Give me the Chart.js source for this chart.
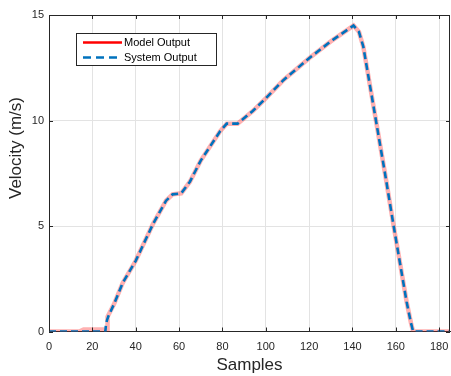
<!DOCTYPE html>
<html><head><meta charset="utf-8">
<script src="https://cdn.jsdelivr.net/npm/chart.js@4/dist/chart.umd.min.js"></script>
<style>html,body{margin:0;padding:0;background:#fff}#wrap{width:451px;height:376px;position:relative}</style>
</head><body><div id="wrap"><canvas id="c" width="451" height="376"></canvas></div>
<script>
const seriesNames = ['Model Output', 'System Output'];
const xTitle = 'Samples';
const yTitle = 'Velocity (m/s)';
const xTickValues = [0, 20, 40, 60, 80, 100, 120, 140, 160, 180];
const yTickValues = [0, 5, 10, 15];

const modelX = [0, 14, 16, 26.8, 27, 30, 34, 40, 48, 54, 57, 61, 65, 70, 79, 82, 87, 94, 100, 108, 112, 120, 130, 140.5, 143, 145, 150, 155, 159, 162, 165, 167, 168, 185];
const modelY = [0, 0, 0.1, 0.1, 0.7, 1.3, 2.3, 3.35, 5.1, 6.2, 6.5, 6.55, 7.1, 8.1, 9.5, 9.85, 9.85, 10.45, 11.05, 11.9, 12.25, 12.95, 13.75, 14.5, 14.2, 13.5, 10.5, 7.5, 5.0, 3.2, 1.4, 0.4, 0, 0];

const systemX = [0, 26, 26.3, 26.8, 27.5, 30, 34, 40, 48, 54, 57, 61, 65, 70, 79, 82, 87, 94, 100, 108, 112, 120, 130, 140.5, 143, 145, 150, 155, 159, 162, 165, 167, 168, 185];
const systemY = [0, 0, 0.35, 0.55, 0.75, 1.3, 2.3, 3.35, 5.1, 6.2, 6.5, 6.55, 7.1, 8.1, 9.5, 9.85, 9.85, 10.45, 11.05, 11.9, 12.25, 12.95, 13.75, 14.5, 14.2, 13.5, 10.5, 7.5, 5.0, 3.2, 1.4, 0.4, 0, 0];

const FONT = "'Liberation Sans', Arial, Helvetica, sans-serif";
const AXIS = '#262626';

const toPts = (xs, ys) => xs.map((x, i) => ({x: x, y: ys[i]}));

const matlabPlugin = {
  id: 'matlab',
  afterDraw(chart) {
    const ctx = chart.ctx;
    const a = chart.chartArea;
    const xs = chart.scales.x, ys = chart.scales.y;
    ctx.save();
    ctx.strokeStyle = AXIS;
    ctx.lineWidth = 1;
    ctx.beginPath();
    ctx.moveTo(a.left, a.top + 0.5); ctx.lineTo(a.right, a.top + 0.5);
    ctx.moveTo(a.right - 0.5, a.top); ctx.lineTo(a.right - 0.5, a.bottom);
    ctx.stroke();
    ctx.beginPath();
    xTickValues.forEach(v => {
      const px = Math.round(xs.getPixelForValue(v)) + 0.5;
      ctx.moveTo(px, a.bottom); ctx.lineTo(px, a.bottom - 4);
      ctx.moveTo(px, a.top); ctx.lineTo(px, a.top + 4);
    });
    yTickValues.forEach(v => {
      const py = Math.round(ys.getPixelForValue(v)) + 0.5;
      ctx.moveTo(a.left, py); ctx.lineTo(a.left + 4, py);
      ctx.moveTo(a.right, py); ctx.lineTo(a.right - 4, py);
    });
    ctx.stroke();
    ctx.fillStyle = AXIS;
    ctx.font = '17px ' + FONT;
    ctx.textAlign = 'center';
    ctx.textBaseline = 'middle';
    ctx.translate(16, 148);
    ctx.rotate(-Math.PI / 2);
    ctx.fillText(yTitle, 0, 0);
    ctx.restore();
    ctx.save();
    const bx = 76.5, by = 33.5, bw = 140, bh = 32;
    ctx.fillStyle = '#fff';
    ctx.fillRect(bx, by, bw, bh);
    ctx.strokeStyle = AXIS;
    ctx.lineWidth = 1;
    ctx.strokeRect(bx, by, bw, bh);
    const rows = [42.5, 57.5];
    const styles = [{c: '#ff0000', d: []}, {c: '#0072BD', d: [8, 5]}];
    chart.data.datasets.forEach((ds, i) => {
      ctx.beginPath();
      ctx.strokeStyle = styles[i].c;
      ctx.lineWidth = 2.5;
      ctx.setLineDash(styles[i].d);
      ctx.moveTo(83, rows[i]); ctx.lineTo(122, rows[i]);
      ctx.stroke();
      ctx.setLineDash([]);
      ctx.fillStyle = '#000';
      ctx.font = '11px ' + FONT;
      ctx.textAlign = 'left';
      ctx.textBaseline = 'middle';
      ctx.fillText(ds.label, 124, rows[i] + 0.5);
    });
    ctx.restore();
  }
};

new Chart(document.getElementById('c'), {
  type: 'line',
  data: {
    datasets: [
      {label: seriesNames[0], data: toPts(modelX, modelY), borderColor: 'rgba(255,50,50,0.38)', borderWidth: 4.5, pointRadius: 0, tension: 0, fill: false, order: 2},
      {label: seriesNames[1], data: toPts(systemX, systemY), borderColor: '#0072BD', borderWidth: 2.6, borderDash: [7, 4], pointRadius: 0, tension: 0, fill: false, order: 1}
    ]
  },
  options: {
    responsive: false,
    animation: false,
    devicePixelRatio: 1,
    layout: {autoPadding: false, padding: {top: 15, right: 1, left: 0, bottom: 0}},
    plugins: {legend: {display: false}, tooltip: {enabled: false}},
    scales: {
      x: {
        type: 'linear', min: 0, max: 185,
        afterBuildTicks: s => { s.ticks = xTickValues.map(v => ({value: v})); },
        afterFit: s => { s.height = 44.5; s.paddingLeft = 0; s.paddingRight = 0; },
        grid: {color: '#e3e3e3', drawTicks: false},
        border: {display: true, color: AXIS, width: 1},
        ticks: {color: AXIS, font: {family: FONT, size: 11}, padding: 9, maxRotation: 0},
        title: {display: true, text: xTitle, color: AXIS, font: {family: FONT, size: 17}, padding: 0}
      },
      y: {
        type: 'linear', min: 0, max: 15,
        afterBuildTicks: s => { s.ticks = yTickValues.map(v => ({value: v})); },
        afterFit: s => { s.width = 49; s.paddingTop = 0; s.paddingBottom = 0; },
        grid: {color: '#e3e3e3', drawTicks: false},
        border: {display: true, color: AXIS, width: 1},
        ticks: {color: AXIS, font: {family: FONT, size: 11}, padding: 5}
      }
    }
  },
  plugins: [matlabPlugin]
});
</script>
</body></html>
